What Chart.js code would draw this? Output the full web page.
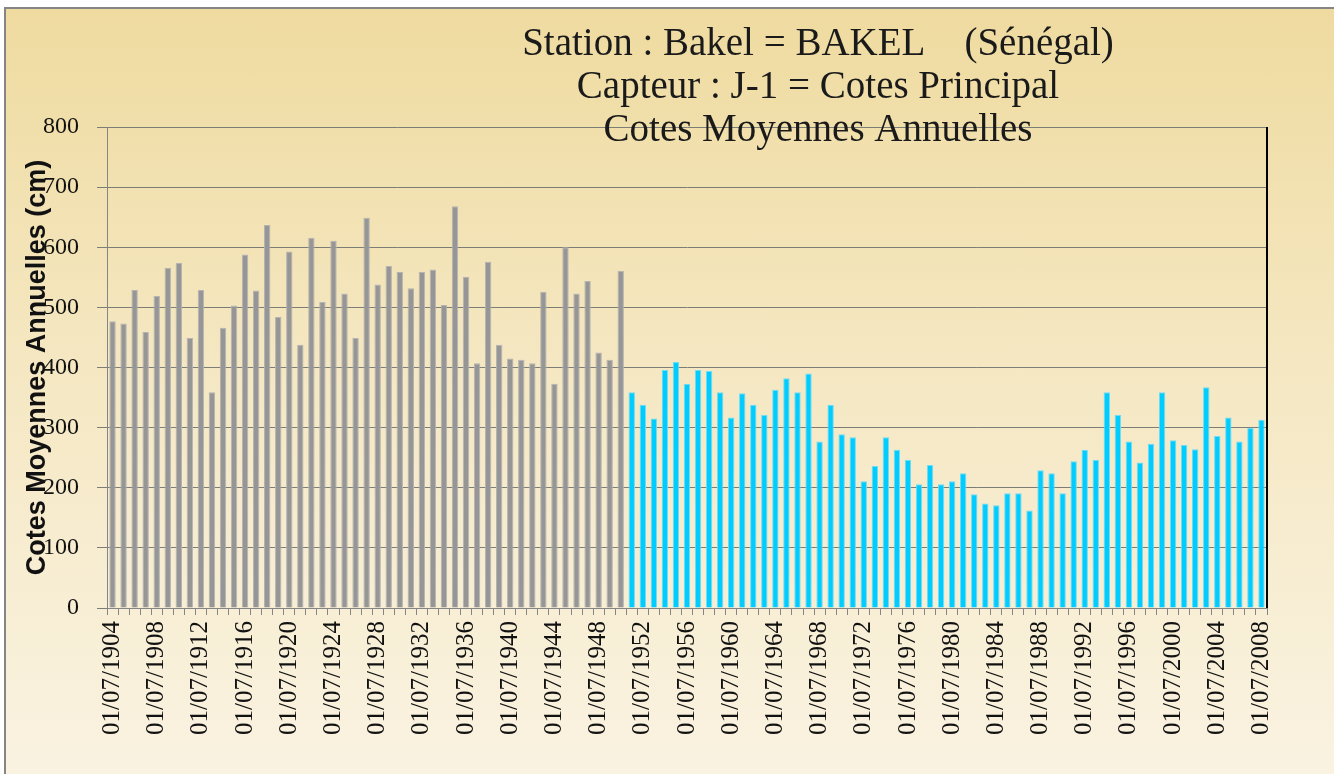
<!DOCTYPE html>
<html>
<head>
<meta charset="utf-8">
<script src="https://cdn.jsdelivr.net/npm/chart.js@4/dist/chart.umd.min.js"></script>
<style>
  html, body { margin: 0; padding: 0; background: #fff; overflow: hidden; }
  #frame {
    position: absolute; left: 4px; top: 7px; width: 1400px; height: 900px;
    border: 2px solid #858585;
    background: linear-gradient(to bottom, #efdba0 0px, #f5e8c4 380px, #faf3e2 770px);
  }
  #wrap { position: absolute; left: 0; top: 0; width: 1334px; height: 774px; }
</style>
</head>
<body>
<div id="frame"></div>
<div id="wrap"><canvas id="chart" width="1334" height="774"></canvas></div>
<script>
// Years (categories)
var years = [1904,1905,1906,1907,1908,1909,1910,1911,1912,1913,1914,1915,1916,1917,1918,1919,
  1920,1921,1922,1923,1924,1925,1926,1927,1928,1929,1930,1931,1932,1933,1934,1935,1936,1937,
  1938,1939,1940,1941,1942,1943,1944,1945,1946,1947,1948,1949,1950,1951,1952,1953,1954,1955,
  1956,1957,1958,1959,1960,1961,1962,1963,1964,1965,1966,1967,1968,1969,1970,1971,1972,1973,
  1974,1975,1976,1977,1978,1979,1980,1981,1982,1983,1984,1985,1986,1987,1988,1989,1990,1991,
  1992,1993,1994,1995,1996,1997,1998,1999,2000,2001,2002,2003,2004,2005,2006,2007,2008];

// Cotes moyennes annuelles (cm), 1904-1950
var cotesAvant1951 = [477,473,529,459,519,566,574,449,529,359,
  466,503,588,528,637,484,593,438,616,509,
  611,523,449,649,538,569,559,532,559,563,
  504,668,551,407,576,438,415,413,407,526,
  373,600,523,544,425,413,561];

// Cotes moyennes annuelles (cm), 1951-2008
var cotesDepuis1951 = [359,338,315,396,409,373,396,394,359,317,
  357,338,321,363,382,359,390,277,338,289,
  284,211,236,284,263,246,206,238,206,211,
  224,189,174,171,191,191,162,229,224,191,
  244,263,246,359,321,277,242,273,359,279,
  271,264,367,286,317,277,300,313];

var yTicks = [0,100,200,300,400,500,600,700,800];

var titleLines = ['Station : Bakel = BAKEL    (Sénégal)', 'Capteur : J-1 = Cotes Principal', 'Cotes Moyennes Annuelles'];
var yTitle = 'Cotes Moyennes Annuelles (cm)';

var labels = years.map(function(y) { return '01/07/' + y; });
var grayData = cotesAvant1951.concat(cotesDepuis1951.map(function() { return null; }));
var cyanData = cotesAvant1951.map(function() { return null; }).concat(cotesDepuis1951);

// Titles and right border
var decor = {
  id: 'decor',
  afterDraw: function(chart) {
    var ctx = chart.ctx, a = chart.chartArea;
    ctx.save();
    ctx.strokeStyle = '#000';
    ctx.lineWidth = 2;
    ctx.beginPath();
    ctx.moveTo(a.right, a.top);
    ctx.lineTo(a.right, a.bottom);
    ctx.stroke();

    ctx.fillStyle = '#1a1a1a';
    ctx.font = '39px "Liberation Serif"';
    ctx.textAlign = 'center';
    ctx.textBaseline = 'alphabetic';
    titleLines.forEach(function(t, i) {
      ctx.fillText(t, 818, 55 + i * 43);
    });

    ctx.translate(38, (a.top + a.bottom) / 2);
    ctx.rotate(-Math.PI / 2);
    ctx.font = 'bold 27px "Liberation Sans"';
    ctx.textBaseline = 'middle';
    ctx.fillStyle = '#111';
    ctx.fillText(yTitle, 0, 0);
    ctx.restore();
  }
};

var chart = new Chart(document.getElementById('chart').getContext('2d'), {
  type: 'bar',
  data: {
    labels: labels,
    datasets: [
      {
        label: '1904-1950',
        data: grayData,
        backgroundColor: '#969696',
        borderColor: '#b4b4b4',
        borderWidth: 1,
        grouped: false,
        barPercentage: 0.58,
        categoryPercentage: 1
      },
      {
        label: '1951-2008',
        data: cyanData,
        backgroundColor: '#00ccff',
        borderColor: '#70dcf5',
        borderWidth: 1,
        grouped: false,
        barPercentage: 0.58,
        categoryPercentage: 1
      }
    ]
  },
  options: {
    responsive: false,
    animation: false,
    devicePixelRatio: 1,
    layout: { padding: { left: 27, top: 127, right: 67, bottom: 16 } },
    plugins: {
      legend: { display: false },
      title: { display: false },
      tooltip: { enabled: false }
    },
    scales: {
      x: {
        afterFit: function(scale) { scale.height = 150; },
        grid: { offset: true, drawOnChartArea: false, drawTicks: true, tickLength: 7, color: '#858585' },
        border: { color: '#858585', width: 1 },
        ticks: {
          autoSkip: false,
          maxRotation: 90,
          minRotation: 90,
          padding: 6,
          color: '#111',
          font: { family: '"Liberation Serif"', size: 25 },
          callback: function(v, i) { return i % 4 === 0 ? labels[i] : ''; }
        }
      },
      y: {
        min: 0,
        max: 800,
        afterFit: function(scale) { scale.width = 80; },
        afterBuildTicks: function(scale) { scale.ticks = yTicks.map(function(v) { return { value: v }; }); },
        grid: { color: '#7d7d78', lineWidth: 1, drawTicks: true, tickLength: 10 },
        border: { color: '#858585', width: 1 },
        ticks: {
          padding: 18,
          color: '#111',
          font: { family: '"Liberation Serif"', size: 24 }
        }
      }
    }
  },
  plugins: [decor]
});
</script>
</body>
</html>
